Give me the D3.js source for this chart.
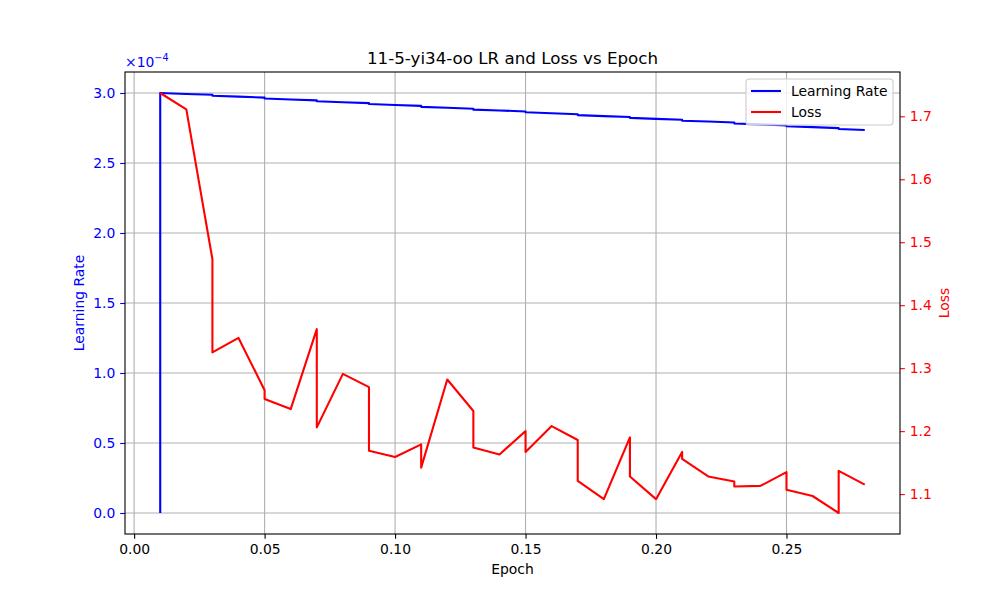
<!DOCTYPE html>
<html>
<head>
<meta charset="utf-8">
<script src="https://cdn.jsdelivr.net/npm/d3@7"></script>
<style>
  body { margin: 0; background: #fff; }
  svg { font-family: "DejaVu Sans", sans-serif; }
</style>
</head>
<body>
<svg width="1000" height="600"></svg>
<script>
// epoch of each logged step (duplicates give the vertical jumps)
const epochs = [0.01, 0.01, 0.02, 0.03, 0.03, 0.04, 0.05, 0.05, 0.06, 0.07, 0.07, 0.08, 0.09, 0.09,
    0.10, 0.11, 0.11, 0.12, 0.13, 0.13, 0.14, 0.15, 0.15, 0.16, 0.17, 0.17, 0.18, 0.19, 0.19,
    0.20, 0.21, 0.21, 0.22, 0.23, 0.23, 0.24, 0.25, 0.25, 0.26, 0.27, 0.27, 0.28]

const learningRate = [0, 3.000e-4, 2.993e-4, 2.987e-4, 2.980e-4, 2.974e-4, 2.967e-4, 2.961e-4,
    2.954e-4, 2.947e-4, 2.941e-4, 2.934e-4, 2.928e-4, 2.921e-4, 2.914e-4, 2.908e-4, 2.901e-4,
    2.895e-4, 2.888e-4, 2.881e-4, 2.875e-4, 2.868e-4, 2.862e-4, 2.855e-4, 2.848e-4, 2.842e-4,
    2.835e-4, 2.829e-4, 2.822e-4, 2.815e-4, 2.809e-4, 2.802e-4, 2.796e-4, 2.789e-4, 2.782e-4,
    2.776e-4, 2.769e-4, 2.763e-4, 2.756e-4, 2.749e-4, 2.743e-4, 2.736e-4]

const loss = [1.737, 1.737, 1.711, 1.473, 1.325, 1.348, 1.265, 1.251, 1.235, 1.362, 1.206,
    1.291, 1.270, 1.169, 1.159, 1.179, 1.142, 1.282, 1.232, 1.174, 1.163, 1.200, 1.167,
    1.208, 1.186, 1.121, 1.092, 1.190, 1.128, 1.092, 1.167, 1.156, 1.128, 1.120, 1.112,
    1.113, 1.135, 1.107, 1.097, 1.070, 1.137, 1.115]

const xTicks = [0.00, 0.05, 0.10, 0.15, 0.20, 0.25]
const lrTicks = [0, 0.5e-4, 1.0e-4, 1.5e-4, 2.0e-4, 2.5e-4, 3.0e-4]
const lossTicks = [1.1, 1.2, 1.3, 1.4, 1.5, 1.6, 1.7]

const seriesNames = ['Learning Rate', 'Loss']
const seriesColors = ['blue', 'red']

const svg = d3.select('svg')
const plotLeft = 125, plotRight = 900, plotTop = 72, plotBottom = 534
const tickLen = 4.86, tickPad = 4.86
const fontSize = 13.9

// matplotlib style 5% margins
const pad = ([a, b]) => [a - (b - a) * 0.05, b + (b - a) * 0.05]

const x = d3.scaleLinear().domain(pad(d3.extent(epochs))).range([plotLeft, plotRight])
const yLR = d3.scaleLinear().domain(pad(d3.extent(learningRate))).range([plotBottom, plotTop])
const yLoss = d3.scaleLinear().domain(pad(d3.extent(loss))).range([plotBottom, plotTop])

// grid
const grid = svg.append('g')
grid.selectAll('.gx')
    .data(xTicks)
    .join('line')
        .attr('x1', d => x(d))
        .attr('x2', d => x(d))
        .attr('y1', plotTop)
        .attr('y2', plotBottom)
        .attr('stroke', '#b0b0b0')
        .attr('stroke-width', 1.1)
grid.selectAll('.gy')
    .data(lrTicks)
    .join('line')
        .attr('x1', plotLeft)
        .attr('x2', plotRight)
        .attr('y1', d => yLR(d))
        .attr('y2', d => yLR(d))
        .attr('stroke', '#b0b0b0')
        .attr('stroke-width', 1.1)

// lines
const lrLine = d3.line().x((d, i) => x(epochs[i])).y(d => yLR(d))
const lossLine = d3.line().x((d, i) => x(epochs[i])).y(d => yLoss(d))

svg.append('path')
    .attr('d', lrLine(learningRate))
    .attr('fill', 'none')
    .attr('stroke', seriesColors[0])
    .attr('stroke-width', 2.1)
    .attr('stroke-linejoin', 'round')

svg.append('path')
    .attr('d', lossLine(loss))
    .attr('fill', 'none')
    .attr('stroke', seriesColors[1])
    .attr('stroke-width', 2.1)
    .attr('stroke-linejoin', 'round')

// axes
function styleAxis(g, color) {
    g.select('.domain').remove()
    g.selectAll('.tick line').attr('stroke', color).attr('stroke-width', 1.1)
    g.selectAll('.tick text')
        .attr('fill', color)
        .attr('font-size', fontSize)
        .attr('font-family', 'DejaVu Sans')
}

const xAxis = svg.append('g')
    .attr('transform', `translate(0,${plotBottom})`)
    .call(d3.axisBottom(x).tickValues(xTicks).tickFormat(d3.format('.2f'))
        .tickSize(tickLen).tickPadding(tickPad))
styleAxis(xAxis, 'black')

const leftAxis = svg.append('g')
    .attr('transform', `translate(${plotLeft},0)`)
    .call(d3.axisLeft(yLR).tickValues(lrTicks).tickFormat(d => (d / 1e-4).toFixed(1))
        .tickSize(tickLen).tickPadding(tickPad))
styleAxis(leftAxis, 'blue')

const rightAxis = svg.append('g')
    .attr('transform', `translate(${plotRight},0)`)
    .call(d3.axisRight(yLoss).tickValues(lossTicks).tickFormat(d3.format('.1f'))
        .tickSize(tickLen).tickPadding(tickPad))
styleAxis(rightAxis, 'red')

// spines
svg.append('rect')
    .attr('x', plotLeft)
    .attr('y', plotTop)
    .attr('width', plotRight - plotLeft)
    .attr('height', plotBottom - plotTop)
    .attr('fill', 'none')
    .attr('stroke', 'black')
    .attr('stroke-width', 1.1)

// offset text
const offset = svg.append('text')
    .attr('x', plotLeft)
    .attr('y', 67)
    .attr('fill', 'blue')
    .attr('font-size', fontSize)
offset.append('tspan').text('×10')
offset.append('tspan')
    .attr('dy', -6)
    .attr('font-size', 9.7)
    .text('−4')

// title and labels
svg.append('text')
    .attr('x', (plotLeft + plotRight) / 2)
    .attr('y', 64)
    .attr('text-anchor', 'middle')
    .attr('font-size', 16.7)
    .text('11-5-yi34-oo LR and Loss vs Epoch')

svg.append('text')
    .attr('x', (plotLeft + plotRight) / 2)
    .attr('y', 574)
    .attr('text-anchor', 'middle')
    .attr('font-size', fontSize)
    .text('Epoch')

svg.append('text')
    .attr('transform', `translate(84,${(plotTop + plotBottom) / 2}) rotate(-90)`)
    .attr('text-anchor', 'middle')
    .attr('fill', 'blue')
    .attr('font-size', fontSize)
    .text('Learning Rate')

svg.append('text')
    .attr('transform', `translate(949,${(plotTop + plotBottom) / 2}) rotate(-90)`)
    .attr('text-anchor', 'middle')
    .attr('fill', 'red')
    .attr('font-size', fontSize)
    .text('Loss')

// legend
const legend = svg.append('g')
    .attr('transform', 'translate(746,79)')

legend.append('rect')
    .attr('width', 147)
    .attr('height', 46)
    .attr('rx', 3)
    .attr('fill', 'white')
    .attr('fill-opacity', 0.8)
    .attr('stroke', '#cccccc')
    .attr('stroke-width', 1.1)

const items = legend.selectAll('.item')
    .data(seriesNames)
    .join('g')
        .attr('transform', (d, i) => `translate(0,${12 + i * 21})`)

items.append('line')
    .attr('x1', 5)
    .attr('x2', 35)
    .attr('stroke', (d, i) => seriesColors[i])
    .attr('stroke-width', 2.1)

items.append('text')
    .attr('x', 45)
    .attr('dy', '0.35em')
    .attr('font-size', fontSize)
    .text(d => d)
</script>
</body>
</html>
